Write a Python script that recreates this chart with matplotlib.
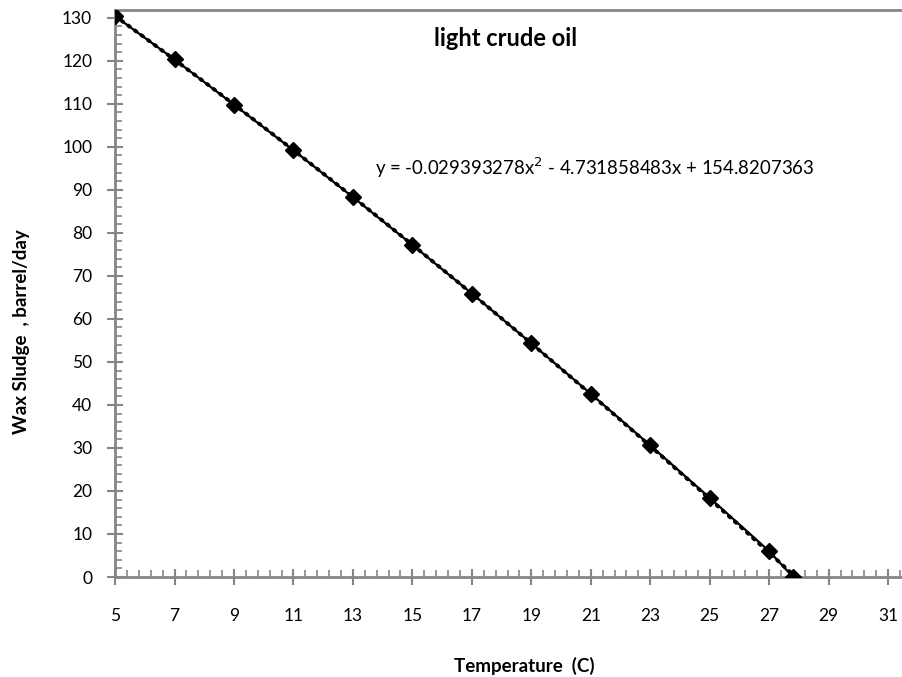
import numpy as np
import matplotlib.pyplot as plt
from matplotlib.ticker import MultipleLocator

plt.rcParams['font.family'] = ['Lato', 'DejaVu Sans']

# wax sludge vs temperature, light crude oil
temperature = [5, 7, 9, 11, 13, 15, 17, 19, 21, 23, 25, 27, 27.8]
sludge = [130.4, 120.3, 109.8, 99.2, 88.3, 77.2, 65.9, 54.3, 42.6, 30.6, 18.4, 6.0, 0.0]
x_ticks = list(range(5, 32, 2))

# quadratic trendline coefficients
a, b, c = -0.029393278, -4.731858483, 154.8207363

fig = plt.figure(figsize=(9.03, 6.77), dpi=100)
ax = fig.add_axes([0.1274, 0.1477, 0.8726, 0.8375])

ax.plot(temperature, sludge, color='black', lw=1.6, marker='D', ms=8.5, zorder=3)
xt = np.linspace(temperature[0], temperature[-1], 200)
ax.plot(xt, a * xt**2 + b * xt + c, color='black', lw=2.8, ls=(0, (0.5, 1.6)),
        dash_capstyle='round', zorder=2)

ax.set_xlim(5, 31.5)
ax.set_ylim(0, 131.8)
ax.set_xticks(x_ticks)
ax.set_xticks(np.arange(5, 31.6, 0.4), minor=True)
ax.yaxis.set_major_locator(MultipleLocator(10))
ax.yaxis.set_minor_locator(MultipleLocator(2))

grey = '#868686'
for side in ['left', 'bottom', 'top']:
    ax.spines[side].set_color(grey)
    ax.spines[side].set_linewidth(2)
ax.spines['right'].set_visible(False)

ax.tick_params(which='major', direction='inout', length=11, width=1.5, color=grey,
               labelsize=12.5)
ax.tick_params(which='minor', direction='in', length=5, width=1.2, color=grey)
ax.tick_params(axis='x', which='major', pad=17)
ax.tick_params(axis='y', which='major', pad=11)

ax.set_xlabel('Temperature  (C)', fontsize=13.5, fontweight='bold', va='center')
ax.xaxis.set_label_coords(0.52, -0.157)
ax.set_ylabel('Wax Sludge  , barrel/day', fontsize=13.5, fontweight='bold', va='center')
ax.yaxis.set_label_coords(-0.119, 0.432)

ax.text(0.496, 0.949, 'light crude oil', transform=ax.transAxes, ha='center', va='center',
        fontsize=17, fontweight='bold')
ax.text(0.330, 0.722, r'y = -0.029393278x$^{2}$ - 4.731858483x + 154.8207363',
        transform=ax.transAxes, ha='left', va='center', fontsize=13.4)

fig.savefig('out.png', dpi=100)
